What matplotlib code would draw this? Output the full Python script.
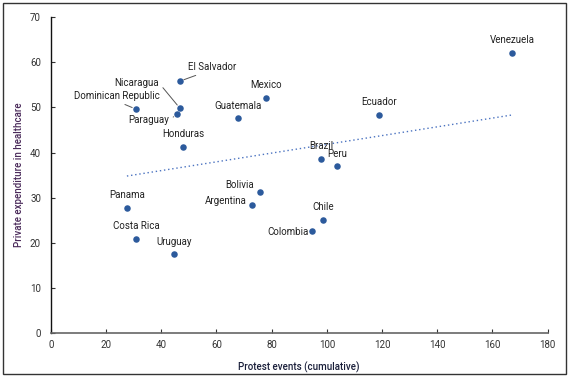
import matplotlib
matplotlib.use("Agg")
import matplotlib.pyplot as plt
import numpy as np
from matplotlib.patches import Rectangle

countries = ["Venezuela", "Ecuador", "Mexico", "El Salvador", "Nicaragua", "Paraguay",
             "Dominican Republic", "Guatemala", "Honduras", "Brazil", "Peru", "Bolivia",
             "Argentina", "Chile", "Colombia", "Panama", "Costa Rica", "Uruguay"]
protests = [167.1, 118.9, 77.9, 46.8, 46.8, 45.7, 30.9, 67.7, 47.9, 97.9, 103.7, 75.8,
            72.9, 98.6, 94.6, 27.6, 30.9, 44.7]
private_exp = [62.0, 48.3, 52.1, 55.8, 49.8, 48.5, 49.6, 47.6, 41.2, 38.6, 37.0, 31.3,
               28.4, 25.1, 22.6, 27.7, 20.8, 17.5]
x_ticks = [0, 20, 40, 60, 80, 100, 120, 140, 160, 180]
y_ticks = [0, 10, 20, 30, 40, 50, 60, 70]

# label placement: offset in pixels, horizontal alignment, leader relpos (or None)
label_style = {
    "Venezuela": ((0, 13), "center", None),
    "Ecuador": ((0, 13), "center", None),
    "Mexico": ((0, 13), "center", None),
    "El Salvador": ((32, 14), "center", (0.35, 0.0)),
    "Nicaragua": ((-43, 25), "center", (1.0, 0.5)),
    "Paraguay": ((-28, -6), "center", (1.0, 0.5)),
    "Dominican Republic": ((-19, 13), "center", (0.5, 0.0)),
    "Guatemala": ((0, 12), "center", None),
    "Honduras": ((0, 13), "center", None),
    "Brazil": ((0, 13), "center", None),
    "Peru": ((0, 12), "center", None),
    "Bolivia": ((-20, 7), "center", None),
    "Argentina": ((-5, 4), "right", None),
    "Chile": ((0, 13), "center", None),
    "Colombia": ((-3, -1), "right", None),
    "Panama": ((0, 13), "center", None),
    "Costa Rica": ((0, 13), "center", None),
    "Uruguay": ((0, 12), "center", None),
}

plt.rcParams['font.family'] = ['Roboto', 'DejaVu Sans']
fig = plt.figure(figsize=(5.71, 3.80), dpi=100)
ax = fig.add_axes([0.0888, 0.1229, 0.8704, 0.8324])

point_color = "#2C5A9C"
ax.scatter(protests, private_exp, s=22, color=point_color, zorder=3, linewidths=0)

# linear trend
xs = np.array(protests)
ys = np.array(private_exp)
m, b = np.polyfit(xs, ys, 1)
tx = np.array([xs.min(), xs.max()])
ax.plot(tx, m * tx + b, linestyle=(0, (1, 2)), color="#4A72C0", linewidth=1.0, zorder=2)

for name, x, y in zip(countries, protests, private_exp):
    (dx, dy), ha, relpos = label_style[name]
    kw = {}
    if relpos is not None:
        kw["arrowprops"] = dict(arrowstyle="-", color="#555555", lw=0.7,
                                shrinkA=1, shrinkB=3, relpos=relpos)
    ax.annotate(name, (x, y), xytext=(dx, dy), textcoords="offset pixels",
                ha=ha, va="center", fontsize=7, color="#222222", **kw)

ax.set_xlim(0, 180)
ax.set_ylim(0, 70)
ax.set_xticks(x_ticks)
ax.set_yticks(y_ticks)
ax.tick_params(direction="in", length=3, width=0.8, labelsize=7, colors="#333333")
ax.tick_params(axis="y", pad=7)
ax.tick_params(axis="x", pad=5)
for s in ["top", "right"]:
    ax.spines[s].set_visible(False)
ax.spines["left"].set_color("#111111")
ax.spines["bottom"].set_color("#666666")
ax.spines["left"].set_linewidth(1.0)
ax.spines["bottom"].set_linewidth(1.2)

ax.set_xlabel("Protest events (cumulative)", fontsize=7, color="#1a1f3a",
              fontweight="medium", labelpad=8)
ax.set_ylabel("Private expenditure in healthcare", fontsize=7, color="#4a2a5a",
              fontweight="medium", labelpad=4)

fig.patches.append(Rectangle((3 / 571, 6 / 380), 563 / 571, 371 / 380,
                             transform=fig.transFigure, fill=False,
                             edgecolor="#333333", linewidth=1.0))

fig.savefig("out.png", dpi=100)
